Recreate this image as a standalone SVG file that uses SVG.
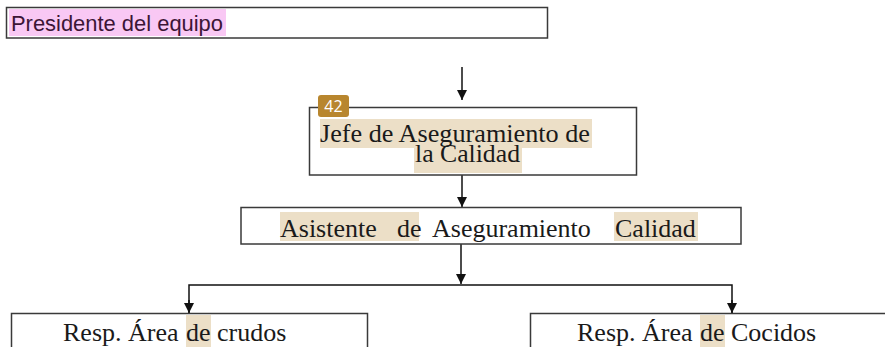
<svg xmlns="http://www.w3.org/2000/svg" width="885" height="347" viewBox="0 0 885 347">
<style>
.box{fill:#fff;stroke:#3a3a3a;stroke-width:1.5}
.hl{fill:#ecdfc7}
.serif{font-family:"Liberation Serif","Times New Roman",serif;font-size:26px;fill:#1a1a1a}
.conn{stroke:#111;stroke-width:1.5;fill:none}
</style>
<defs>
<marker id="arr" viewBox="0 0 10 10" refX="10" refY="5" markerWidth="10" markerHeight="10" markerUnits="userSpaceOnUse" orient="auto">
<path d="M0,0 L10,5 L0,10 z" fill="#111"/>
</marker>
</defs>
<rect width="885" height="347" fill="#fff"/>
<g id="connectors">
<line class="conn" x1="462" y1="67" x2="462" y2="100" marker-end="url(#arr)"/>
<line class="conn" x1="462" y1="175" x2="462" y2="207" marker-end="url(#arr)"/>
<line class="conn" x1="461" y1="244" x2="461" y2="284" marker-end="url(#arr)"/>
<polyline class="conn" points="189,313 189,285 732,285 732,313"/>
<line class="conn" x1="189" y1="300" x2="189" y2="313" marker-end="url(#arr)"/>
<line class="conn" x1="732" y1="300" x2="732" y2="313" marker-end="url(#arr)"/>
</g>
<g id="presidente">
<rect class="box" x="6.5" y="7.5" width="541" height="30.5"/>
<rect x="9" y="9" width="217" height="27" fill="#f9c8f4"/>
<text x="11" y="31" font-family="Liberation Sans, Arial, sans-serif" font-size="22" fill="#3c1536" textLength="212" lengthAdjust="spacingAndGlyphs">Presidente del equipo</text>
</g>
<g id="jefe">
<rect class="box" x="309.5" y="107.5" width="327" height="67.5"/>
<rect class="hl" x="320" y="119" width="272" height="29"/>
<rect class="hl" x="414" y="148" width="108" height="25"/>
<text class="serif" x="320" y="142" textLength="270" lengthAdjust="spacingAndGlyphs">Jefe de Aseguramiento de</text>
<text class="serif" x="415" y="162" textLength="105" lengthAdjust="spacingAndGlyphs">la Calidad</text>
<rect x="318" y="95" width="31" height="22" rx="3" fill="#b8862e"/>
<text x="333.5" y="112" text-anchor="middle" font-family="Open Sans, Noto Sans, sans-serif" font-size="16" fill="#fff">42</text>
</g>
<g id="asistente">
<rect class="box" x="241" y="207.5" width="500" height="36.5"/>
<rect class="hl" x="280" y="212" width="139" height="29"/>
<rect class="hl" x="614" y="212" width="84" height="29"/>
<text class="serif" y="237"><tspan x="280">Asistente</tspan><tspan x="397">de</tspan><tspan x="432">Aseguramiento</tspan><tspan x="615">Calidad</tspan></text>
</g>
<g id="crudos">
<rect class="box" x="11.5" y="313.5" width="356" height="50"/>
<rect class="hl" x="186" y="315" width="25" height="32"/>
<text class="serif" y="341"><tspan x="63">Resp. Área </tspan><tspan x="186">de</tspan><tspan x="217">crudos</tspan></text>
</g>
<g id="cocidos">
<rect class="box" x="530.5" y="313.5" width="360" height="50"/>
<rect class="hl" x="700" y="315" width="25" height="32"/>
<text class="serif" y="341"><tspan x="577">Resp. Área </tspan><tspan x="700">de</tspan><tspan x="731">Cocidos</tspan></text>
</g>
</svg>
